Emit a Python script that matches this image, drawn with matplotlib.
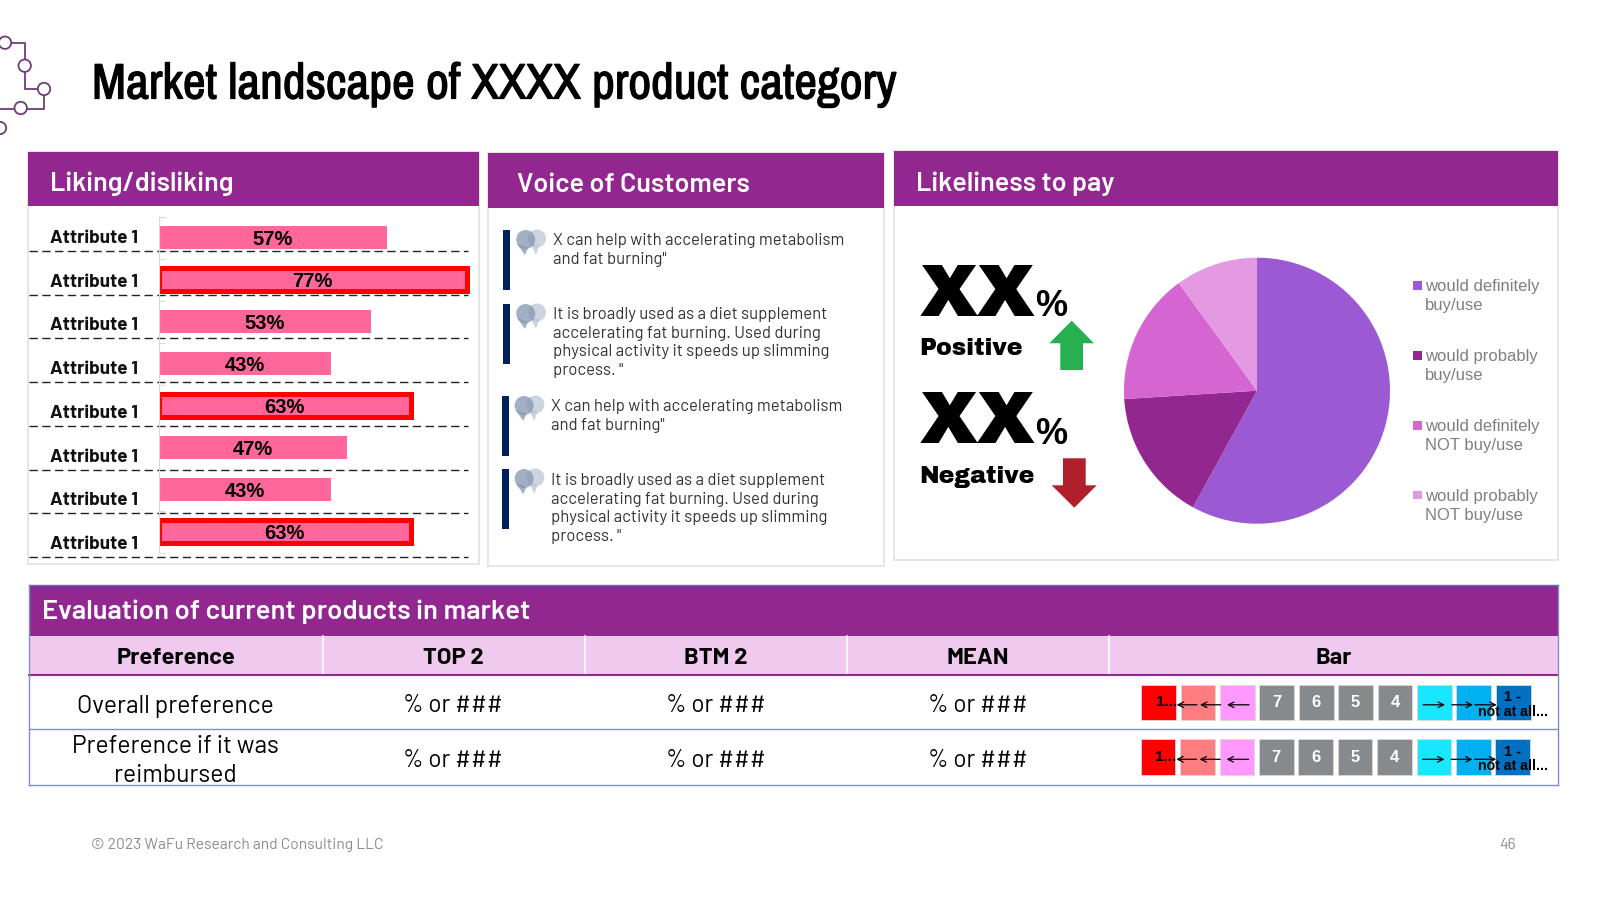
import matplotlib
matplotlib.use("Agg")
import matplotlib.pyplot as plt
import matplotlib.patheffects as pe
from matplotlib.patches import Rectangle, Circle, Polygon

# data
attributes = ["Attribute 1"] * 8
liking = [57, 77, 53, 43, 63, 47, 43, 63]
highlighted = [False, True, False, False, True, False, False, True]

quotes = [
    "X can help with accelerating metabolism\nand fat burning\"",
    "It is broadly used as a diet supplement\naccelerating fat burning. Used during\nphysical activity it speeds up slimming\nprocess. \"",
    "X can help with accelerating metabolism\nand fat burning\"",
    "It is broadly used as a diet supplement\naccelerating fat burning. Used during\nphysical activity it speeds up slimming\nprocess. \"",
]

pay_labels = ["would definitely\nbuy/use", "would probably\nbuy/use",
              "would definitely\nNOT buy/use", "would probably\nNOT buy/use"]
pay_values = [58, 16, 16, 10]
pay_colors = ["#9B59D3", "#92278F", "#D565D0", "#E39AE2"]

table_cols = ["Preference", "TOP 2", "BTM 2", "MEAN", "Bar"]
table_rows = ["Overall preference", "Preference if it was\nreimbursed"]
table_value = "% or ###"

scale_labels = ["", "", "", "7", "6", "5", "4", "", "", ""]
scale_colors = ["#FF0000", "#FF7C80", "#FF99FF", "#878A8C", "#878A8C", "#878A8C",
                "#878A8C", "#19E6FF", "#00B0F0", "#0070C0"]

PURPLE = "#92278F"
DIN = ["Barlow", "Roboto", "DejaVu Sans"]
ARIAL = ["Liberation Sans", "DejaVu Sans"]
NARROW = ["Archivo Narrow", "Liberation Sans"]
HEAVY = ["Archivo Black", "DejaVu Sans"]

fig = plt.figure(figsize=(16, 9), dpi=100, facecolor="white")

# whole slide in pixels, everything that isn't a chart goes here
bg = fig.add_axes([0, 0, 1, 1])
bg.set_xlim(0, 1600)
bg.set_ylim(900, 0)
bg.axis("off")


def rect(x0, y0, x1, y1, fc="white", ec="none", lw=0, z=1):
    bg.add_patch(Rectangle((x0, y0), x1 - x0, y1 - y0, facecolor=fc, edgecolor=ec, linewidth=lw, zorder=z))


def sub_axes(x0, y0, x1, y1):
    ax = fig.add_axes([x0 / 1600, 1 - y1 / 900, (x1 - x0) / 1600, (y1 - y0) / 900])
    ax.patch.set_alpha(0)
    return ax


# logo
logo = "#6F3C7C"
bg.plot([11, 25, 25], [42.7, 42.7, 59], color=logo, lw=1.3, zorder=2)
bg.plot([25, 25, 38], [72, 89, 89], color=logo, lw=1.3, zorder=2)
bg.plot([44, 44, 27], [95, 108.5, 108.5], color=logo, lw=1.3, zorder=2)
bg.plot([14, 0], [108.5, 108.5], color=logo, lw=1.3, zorder=2)
for cx, cy in [(5, 42.7), (24.7, 65.7), (44, 89), (20.7, 108), (0, 128)]:
    bg.add_patch(Circle((cx, cy), 6.2, facecolor="white", edgecolor=logo, linewidth=1.3, zorder=3))

# title, the narrow font has no bold so thicken it
bg.text(92, 85, "Market landscape of XXXX product category", family=NARROW,
        fontsize=35.9, color="black", va="center", ha="left", zorder=5,
        path_effects=[pe.withStroke(linewidth=0.9, foreground="black")])

# panels
panels = [
    (27.5, 151.5, 479, 206, 564, "Liking/disliking", 50),
    (488, 153, 884, 208, 566, "Voice of Customers", 517),
    (894, 151, 1558, 206, 560, "Likeliness to pay", 916),
]
for x0, y0, x1, yh, y1, name, tx in panels:
    rect(x0, y0, x1, y1, fc="white", ec="#E2E2E2", lw=1.2, z=1)
    rect(x0, y0, x1, yh, fc=PURPLE, z=2)
    bg.text(tx, 191.5, name, family=DIN, fontsize=19.4, fontweight="semibold", color="white",
            va="baseline", ha="left", zorder=5)

# liking bars
for i, lab in enumerate(attributes):
    y_line = 251 + 43.7 * i
    bg.plot([29, 468], [y_line, y_line], color="#222222", lw=1.0, linestyle=(0, (6, 3.2)), zorder=3)
    bg.text(50, y_line - 12.5, lab, family=DIN, fontsize=13.6, fontweight="bold", color="#111111",
            va="center", ha="left", zorder=5)

ax_bar = sub_axes(158.7, 216.5, 558.7, 552.5)
pos = list(range(len(liking)))
bars = ax_bar.barh(pos, liking, height=0.55, color="#FF6699")
for b, flag in zip(bars, highlighted):
    if flag:
        b.set_edgecolor("#FF0000")
        b.set_linewidth(3.6)
bar_texts = ax_bar.bar_label(bars, labels=[f"{v}%" for v in liking], label_type="center", family=ARIAL,
                             fontsize=14.5, fontweight="bold", color="black")
for t in bar_texts:
    t.xyann = (0, -1.2)
ax_bar.set_xlim(0, 100)
ax_bar.set_ylim(len(liking) - 0.5, -0.5)
ax_bar.set_xticks([])
ax_bar.set_yticks([p - 0.5 for p in pos] + [len(liking) - 0.5])
ax_bar.set_yticklabels([])
ax_bar.tick_params(axis="y", direction="in", length=4, color="#D9D9D9", width=0.8)
for s in ["top", "right", "bottom"]:
    ax_bar.spines[s].set_visible(False)
ax_bar.spines["left"].set_color("#D9D9D9")

# quotes
quote_pos = [(503.3, 230, 553.7, 240), (503.3, 304, 553.7, 314), (501.7, 396, 552, 406), (501.7, 469, 552, 480)]
for txt, (bx, by, tx, ty) in zip(quotes, quote_pos):
    rect(bx, by, bx + 7, by + 59.5, fc="#002060", z=3)
    ox, oy = bx - 503.3, by - 230
    bg.add_patch(Circle((537 + ox, 238.5 + oy), 9, facecolor="#B8C2D4", alpha=0.7, lw=0, zorder=3))
    bg.add_patch(Polygon([(530 + ox, 243 + oy), (539 + ox, 246 + oy), (536 + ox, 255 + oy)],
                         facecolor="#B8C2D4", alpha=0.7, lw=0, zorder=3))
    bg.add_patch(Circle((525.7 + ox, 239.5 + oy), 9.5, facecolor="#8496B0", alpha=0.75, lw=0, zorder=4))
    bg.add_patch(Polygon([(517 + ox, 244 + oy), (528 + ox, 248 + oy), (525 + ox, 255 + oy)],
                         facecolor="#8496B0", alpha=0.75, lw=0, zorder=4))
    bg.text(tx - 1, ty - 7, txt, family=DIN, fontsize=12, color="#333333", va="top", ha="left",
            linespacing=1.31, zorder=5)

# XX% blocks
for yt, word, in [(289, "Positive"), (416.5, "Negative")]:
    bg.text(919.5, yt + 26.5, "XX", family=HEAVY, fontsize=53.5, color="black",
            va="baseline", ha="left", zorder=5)
    bg.text(1035, yt + 27.5, "%", family=ARIAL, fontsize=26, fontweight="bold", color="black",
            va="baseline", ha="left", zorder=5)
    bg.text(919.5, yt + 66, word, family=HEAVY, fontsize=17, color="black",
            va="baseline", ha="left", zorder=5)
bg.add_patch(Polygon([(1071.7, 320.7), (1094, 343.3), (1083, 343.3), (1083, 370), (1060.3, 370),
                      (1060.3, 343.3), (1049.3, 343.3)], facecolor="#27B050", lw=0, zorder=4))
bg.add_patch(Polygon([(1074.3, 507.7), (1096.7, 485.3), (1085.7, 485.3), (1085.7, 458.3), (1063, 458.3),
                      (1063, 485.3), (1051.7, 485.3)], facecolor="#B0202C", lw=0, zorder=4))

# pie
ax_pie = sub_axes(1257 - 133, 390.7 - 133, 1257 + 133, 390.7 + 133)
ax_pie.pie(pay_values, colors=pay_colors, startangle=90, counterclock=False, radius=1.0)
ax_pie.set_xlim(-1, 1)
ax_pie.set_ylim(-1, 1)

for lab, col, ly in zip(pay_labels, pay_colors, [285.7, 355.7, 425.3, 495]):
    rect(1413, ly - 4.4, 1421.7, ly + 4.4, fc=col, z=4)
    bg.text(1425, ly - 6.5, lab, family=ARIAL, fontsize=12, color="#7F7F7F", va="top", ha="left",
            linespacing=1.35, zorder=5)

# evaluation table
rect(29, 584.5, 1558, 636, fc=PURPLE, z=2)
rect(29, 636, 1558, 675, fc="#F0C9EF", z=2)
bg.text(42, 618.5, "Evaluation of current products in market", family=DIN, fontsize=19.7, fontweight="semibold",
        color="white", va="baseline", ha="left", zorder=5)
col_x = [175.5, 453, 716, 977.5, 1333.5]
for sep in [322.5, 585, 847, 1109]:
    bg.plot([sep, sep], [636, 675], color="white", lw=1.2, zorder=3)
for c, cx in zip(table_cols, col_x):
    bg.text(cx, 658, c, family=DIN, fontsize=17, fontweight="bold", color="black", va="center", ha="center", zorder=5)
bg.plot([29, 1558], [675, 675], color=PURPLE, lw=1.5, zorder=3)
for yl in [729, 785]:
    bg.plot([29, 1558], [yl, yl], color="#7E8BCF", lw=1.0, zorder=3)
bg.plot([29, 1558], [584.5, 584.5], color="#5B6FC4", lw=1.0, zorder=3)
bg.plot([29, 29], [584.5, 785], color="#7E8BCF", lw=1.0, zorder=3)
bg.plot([1558, 1558], [584.5, 785], color="#7E8BCF", lw=1.0, zorder=3)

for row, ry in zip(table_rows, [706, 761]):
    bg.text(col_x[0], ry, row, family=DIN, fontsize=17.7, color="black", va="center", ha="center",
            linespacing=1.32, zorder=5)
    for cx in col_x[1:4]:
        bg.text(cx, ry - 0.5, table_value, family=DIN, fontsize=17.4, color="black", va="center", ha="center", zorder=5)

# scale squares in the Bar column
for x_off, y0 in [(0, 684.5), (-0.5, 739)]:
    yc = y0 + 20.3
    for k, (lab, col) in enumerate(zip(scale_labels, scale_colors)):
        x = 1141.2 + x_off + 39.4 * k
        rect(x, y0, x + 34.7, y0 + 35.7, fc=col, ec="#D9D9D9", lw=0.6, z=3)
        if lab:
            bg.text(x + 17.3, y0 + 18, lab, family=ARIAL, fontsize=12, fontweight="bold", color="white",
                    va="center", ha="center", zorder=5)
    bg.text(1155.7 + x_off, y0 + 18, "1...", family=ARIAL, fontsize=11, fontweight="bold", color="black",
            va="center", ha="left", zorder=5)
    bg.text(1512.7 + x_off, y0 + 12.5, "1 -", family=ARIAL, fontsize=10.5, fontweight="bold", color="black",
            va="center", ha="center", zorder=5)
    bg.text(1478 + x_off, y0 + 27.5, "not at all...", family=ARIAL, fontsize=10.2, fontweight="bold", color="black",
            va="center", ha="left", zorder=6)
    for x_tail, x_tip in [(1249, 1227), (1220.7, 1200), (1197, 1176.7), (1423, 1445), (1451.7, 1473), (1475, 1496.7)]:
        bg.annotate("", xy=(x_tip + x_off, yc), xytext=(x_tail + x_off, yc),
                    arrowprops=dict(arrowstyle="->", color="black", lw=0.9, shrinkA=0, shrinkB=0, mutation_scale=10),
                    zorder=6)

# footer
bg.text(91, 845, "© 2023 WaFu Research and Consulting LLC", family=DIN, fontsize=11.2, color="#8C8C8C",
        va="center", ha="left", zorder=5)
bg.text(1508, 845, "46", family=DIN, fontsize=11.2, color="#8C8C8C", va="center", ha="center", zorder=5)

fig.savefig("out.png", dpi=100)
plt.close(fig)
